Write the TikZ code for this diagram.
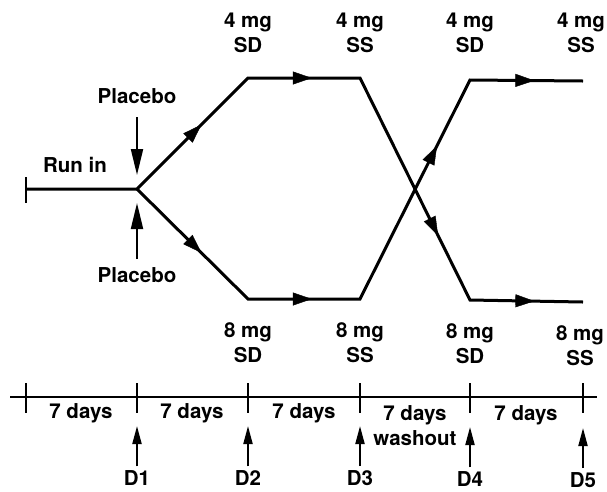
\documentclass[tikz,border=0pt]{standalone}
\usepackage{fontspec}
\setmainfont{TeX Gyre Heros}
\usetikzlibrary{arrows.meta, calc, decorations.markings}

\begin{document}
\begin{tikzpicture}[
  x=1pt, y=-1pt,
  lbl/.style={font=\bfseries\fontsize{20.5}{25}\selectfont, align=center, inner sep=0pt},
  route/.style={line width=3pt, line join=miter},
  midarrow/.style={postaction={decorate}, decoration={markings, mark=at position #1 with {\arrow{Triangle[length=19pt,width=13pt]}}}},
  tickmark/.style={line width=2pt},
  placebo/.style={-{Triangle[length=26pt,width=12pt]}, line width=2pt},
  pointer/.style={-{Triangle[length=18pt,width=9pt]}, line width=2pt}
]
  \useasboundingbox (0,0) rectangle (607,491);

  % treatment routes
  \coordinate (start) at (26,189);
  \coordinate (split) at (137,189);
  \coordinate (u1) at (248,78);
  \coordinate (u2) at (360,78);
  \coordinate (u3) at (470,300);
  \coordinate (u4) at (583,302);
  \coordinate (l1) at (248,299);
  \coordinate (l2) at (360,299);
  \coordinate (l3) at (470,80);
  \coordinate (l4) at (583,81);

  \draw[tickmark] (26,177) -- (26,203);
  \draw[route] (start) -- (split) -- (u1) -- (u2) -- (u3) -- (u4);
  \draw[route] (split) -- (l1) -- (l2) -- (l3) -- (l4);
  \foreach \a/\b/\p in {split/u1/0.58, u1/u2/0.57, u2/u3/0.71, u3/u4/0.57,
                        split/l1/0.58, l1/l2/0.57, l2/l3/0.70, l3/l4/0.57}
    \path[midarrow=\p] (\a) -- (\b);

  % labels
  \node[lbl] (runin) at (75,165) {Run in};
  \node[lbl] (plac-up) at (137,96) {Placebo};
  \node[lbl] (plac-dn) at (137,275) {Placebo};
  \coordinate (pu-top) at (137,117);
  \coordinate (pu-tip) at (137,175);
  \coordinate (pd-bot) at (137,259);
  \coordinate (pd-tip) at (137,203);
  \draw[placebo] (pu-top) -- (pu-tip);
  \draw[placebo] (pd-bot) -- (pd-tip);

  \node[lbl] (hi1) at (248,33) {4 mg\\SD};
  \node[lbl] (hi2) at (360,33) {4 mg\\SS};
  \node[lbl] (hi3) at (470,33) {4 mg\\SD};
  \node[lbl] (hi4) at (581,33) {4 mg\\SS};
  \node[lbl] (lo1) at (248,343) {8 mg\\SD};
  \node[lbl] (lo2) at (360,343) {8 mg\\SS};
  \node[lbl] (lo3) at (470,344) {8 mg\\SD};
  \node[lbl] (lo4) at (580,346) {8 mg\\SS};

  % time line
  \coordinate (tl0) at (10,397);
  \coordinate (tl1) at (597,397);
  \draw[line width=2.4pt] (tl0) -- (tl1);
  \foreach \x in {26,137,248,360,470,583}
    \draw[tickmark] (\x,383) -- (\x,413);

  \node[lbl] (w1) at (81,413) {7 days};
  \node[lbl] (w2) at (192,413) {7 days};
  \node[lbl] (w3) at (304,413) {7 days};
  \node[lbl] (w4) at (415,426) {7 days\\washout};
  \node[lbl] (w5) at (526,415) {7 days};

  \foreach \x/\y/\n in {137/478/1, 248/478/2, 360/478/3, 470/479/4, 583/480/5} {
    \node[lbl] (d\n) at (\x,\y) {D\n};
    \coordinate (dt\n) at (\x,\y-52);
    \draw[pointer] (d\n.north) ++(0,-4) coordinate (db\n) -- (dt\n);
  }
\end{tikzpicture}
\end{document}
